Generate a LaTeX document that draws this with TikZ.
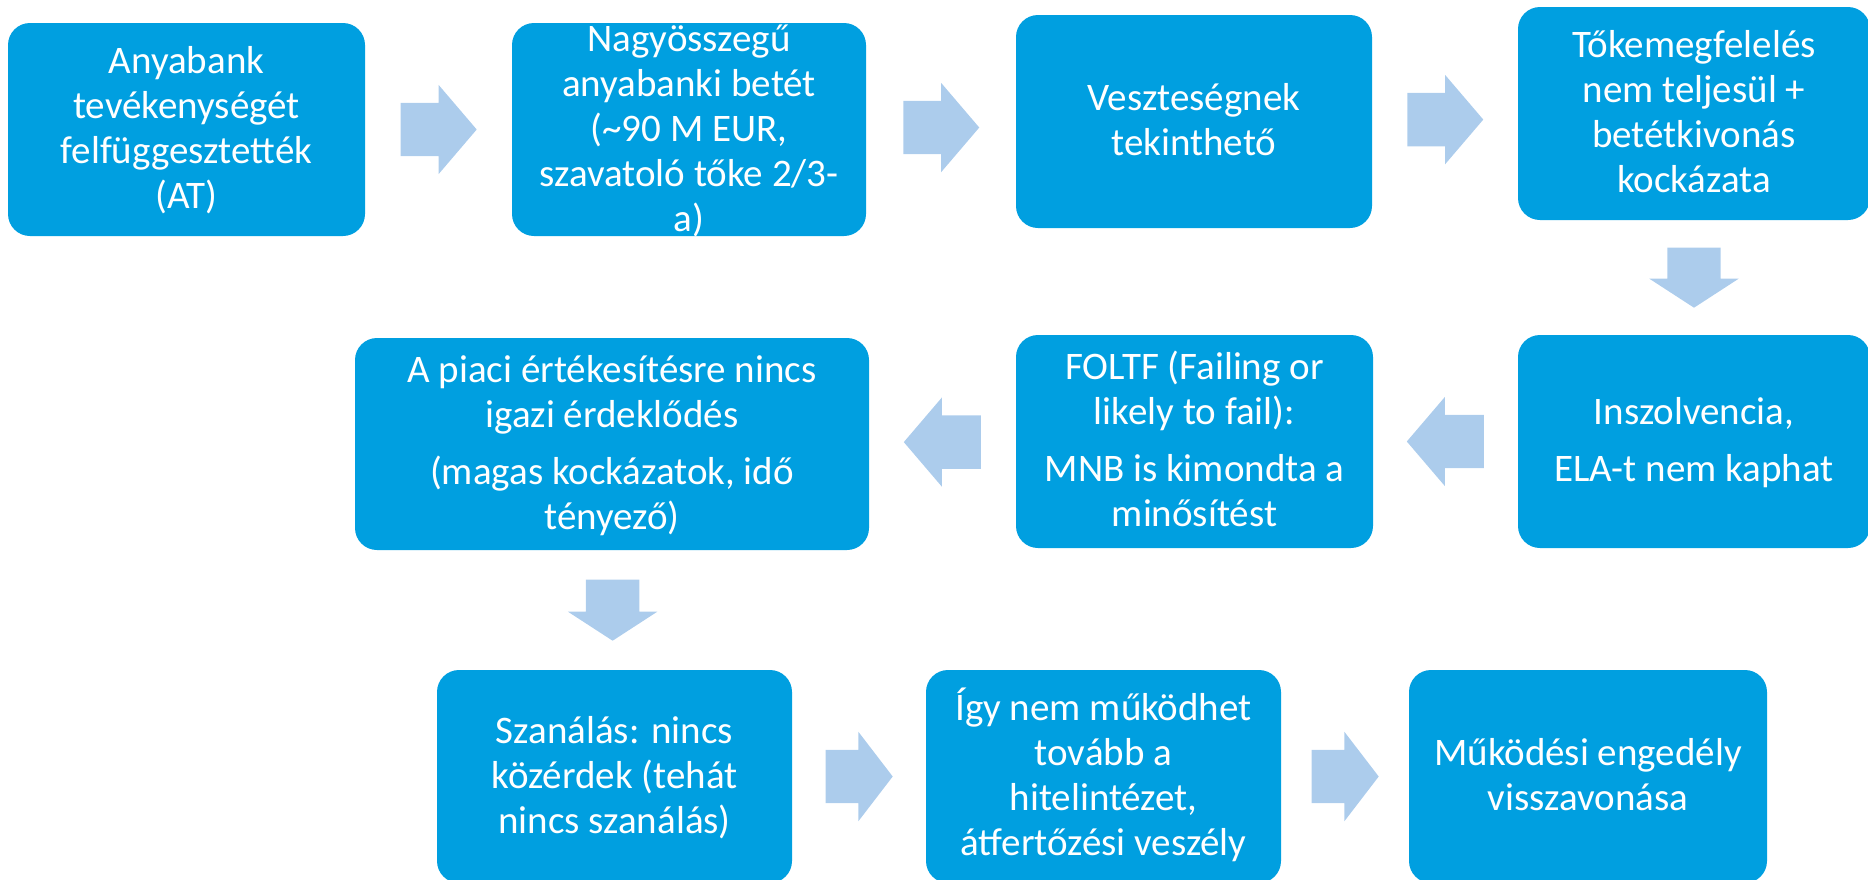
\documentclass[tikz,border=0pt]{standalone}
\usepackage{fontspec}
\setmainfont{Carlito}
\usetikzlibrary{shapes.arrows,calc}
\definecolor{boxblue}{RGB}{0,159,224}
\definecolor{arrowblue}{RGB}{172,204,236}
\newcommand\lnst{\rule[-11pt]{0pt}{45pt}}
\begin{document}
\begin{tikzpicture}[x=1pt,y=-1pt,
  box/.style={rectangle, rounded corners=22pt, fill=boxblue, draw=none, inner sep=0pt, minimum width=#1, minimum height=213pt},
  box/.default=355pt,
  txt/.style={text=white, align=center, inner sep=0pt, font=\fontsize{39pt}{45pt}\selectfont},
  blockarrow/.style 2 args={single arrow, fill=arrowblue, draw=none, inner xsep=0pt, inner ysep=26.5pt,
     single arrow head extend=18pt, single arrow tip angle=#2, minimum height=#1, minimum width=1pt, anchor=tail}
]
\useasboundingbox (0,0) rectangle (1868,879);
% boxes
\node[box=357pt] (b1) at (186.5,129.5) {};
\node[box=354pt] (b2) at (689,129.5) {};
\node[box=356pt] (b3) at (1194,121.5) {};
\node[box=352pt] (b4) at (1694,113.5) {};
\node[box=352pt] (b5) at (1694,441.5) {};
\node[box=357pt] (b6) at (1194.5,441.5) {};
\node[box=514pt, minimum height=212pt] (b7) at (612,444) {};
\node[box=355pt] (b8) at (614.5,776.5) {};
\node[box=355pt] (b9) at (1103.5,776.5) {};
\node[box=358pt] (b10) at (1588,776.5) {};
% texts
\node[txt] (t1) at (b1.center) {\lnst Anyabank\\tevékenységét\\felfüggesztették\\(AT)\lnst};
\node[txt] (t2) at (b2.center) {\lnst Nagyösszegű\\anyabanki betét\\(\textasciitilde90 M EUR,\\szavatoló tőke 2/3-\\a)\lnst};
\node[txt] (t3) at (b3.center) {\lnst Veszteségnek\\tekinthető\lnst};
\node[txt] (t4) at (b4.center) {\lnst Tőkemegfelelés\\nem teljesül +\\betétkivonás\\kockázata\lnst};
\node[txt] (t5) at (b5.center) {\lnst Inszolvencia,\\[12pt]ELA-t nem kaphat\lnst};
\node[txt] (t6) at (b6.center) {\lnst FOLTF (Failing or\\likely to fail):\\[12pt]MNB is kimondta a\\minősítést\lnst};
\node[txt] (t7) at (b7.center) {\lnst A piaci értékesítésre nincs\\igazi érdeklődés\\[12pt](magas kockázatok, idő\\tényező)\lnst};
\node[txt] (t8) at (b8.center) {\lnst Szanálás: nincs\\közérdek (tehát\\nincs szanálás)\lnst};
\node[txt] (t9) at (b9.center) {\lnst Így nem működhet\\tovább a\\hitelintézet,\\átfertőzési veszély\lnst};
\node[txt] (t10) at (b10.center) {\lnst Működési engedély\\visszavonása\lnst};
% arrows (tail placed half a length before the midpoint of the gap)
\node[blockarrow={76pt}{99}] (a12) at ($(b1.east)!.5!(b2.west)!38pt!(b1.east)$) {};
\node[blockarrow={76pt}{99}] (a23) at ($(b2.east)!.5!(b3.west)!38pt!(b2.east)$) {};
\node[blockarrow={76pt}{99}] (a34) at ($(b3.east)!.5!(b4.west)!38pt!(b3.east)$) {};
\node[blockarrow={60pt}{114}, rotate=-90] (a45) at ($(b4.south)!.5!(b5.north)!30pt!(b4.south)$) {};
\node[blockarrow={77pt}{99}, rotate=180] (a56) at ($(b5.west)!.5!(b6.east)!38.5pt!(b5.west)$) {};
\node[blockarrow={77pt}{99}, rotate=180] (a67) at ($(b6.west)!.5!(b7.east)!38.5pt!(b6.west)$) {};
\node[blockarrow={61pt}{114}, rotate=-90] (a78) at ($(b7.south)!.5!(b8.north)!30.5pt!(b7.south)$) {};
\node[blockarrow={67pt}{105}] (a89) at ($(b8.east)!.5!(b9.west)!33.5pt!(b8.east)$) {};
\node[blockarrow={67pt}{105}] (a910) at ($(b9.east)!.5!(b10.west)!33.5pt!(b9.east)$) {};
\end{tikzpicture}
\end{document}
